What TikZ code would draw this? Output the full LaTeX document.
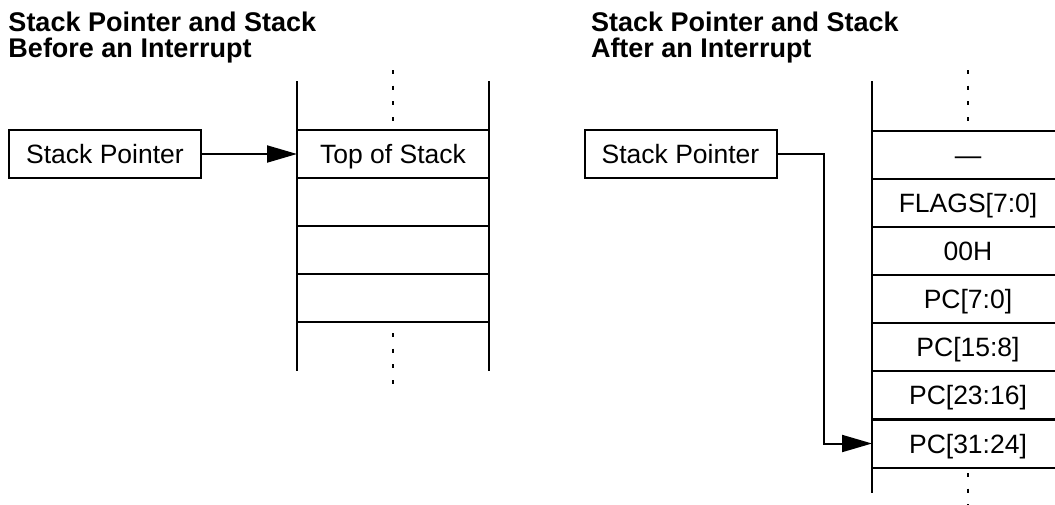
\documentclass[tikz,border=0pt]{standalone}
\usepackage{fontspec}
\setmainfont{Liberation Sans}
\usetikzlibrary{arrows.meta}

\begin{document}
\begin{tikzpicture}[x=1pt,y=-1pt,
  every node/.style={inner sep=0pt, outer sep=0pt, font=\fontsize{26.5}{26.5}\selectfont},
  heading/.style={anchor=base west, font=\fontsize{27}{27}\selectfont\bfseries},
  ptrbox/.style={draw, line width=2pt, minimum width=192pt, minimum height=48pt,
                 text height=19pt, text depth=0pt},
  cell/.style={draw, line width=2pt, minimum width=192pt, minimum height=48pt,
               text height=19pt, text depth=0pt},
  rail/.style={line width=2pt},
  gap/.style={line width=2pt, dash pattern=on 4pt off 11.7pt},
  link/.style={line width=2pt, -{Triangle[length=30pt,width=17pt]}}
]
\useasboundingbox (0,0) rectangle (1055,504);
\clip (0,0) rectangle (1055,504);

% ---------- before the interrupt ----------
\node[heading] (t1a) at (8.5,31) {Stack Pointer and Stack};
\node[heading] (t1b) at (8.5,57) {Before an Interrupt};

\node[ptrbox] (sp1) at (105,154) {Stack Pointer};

\draw[rail] (297,81) -- (297,371);
\draw[rail] (489,81) -- (489,371);
\node[cell] (a1) at (393,154) {Top of Stack};
\node[cell] (a2) at (393,202) {};
\node[cell] (a3) at (393,250) {};
\node[cell] (a4) at (393,298) {};
\draw[gap] (393,70) -- (393,121);
\draw[gap] (393,333) -- (393,384);

\draw[link] (sp1.east) -- (a1.west);

% ---------- after the interrupt ----------
\node[heading] (t2a) at (591,31) {Stack Pointer and Stack};
\node[heading] (t2b) at (591,57) {After an Interrupt};

\node[ptrbox] (sp2) at (680.5,154) {Stack Pointer};

\draw[rail] (872,81) -- (872,493);
\node[cell] (b1) at (968,155) {—};
\node[cell] (b2) at (968,203) {FLAGS[7:0]};
\node[cell] (b3) at (968,251) {00H};
\node[cell] (b4) at (968,299) {PC[7:0]};
\node[cell] (b5) at (968,347) {PC[15:8]};
\node[cell] (b6) at (968,395) {PC[23:16]};
\node[cell] (b7) at (968,443.5) {PC[31:24]};
\draw[gap] (968,70) -- (968,121);
\draw[gap] (968,473) -- (968,510);

\coordinate (bend) at (824,154);
\draw[link] (sp2.east) -- (bend) |- (b7.west);
\end{tikzpicture}
\end{document}
